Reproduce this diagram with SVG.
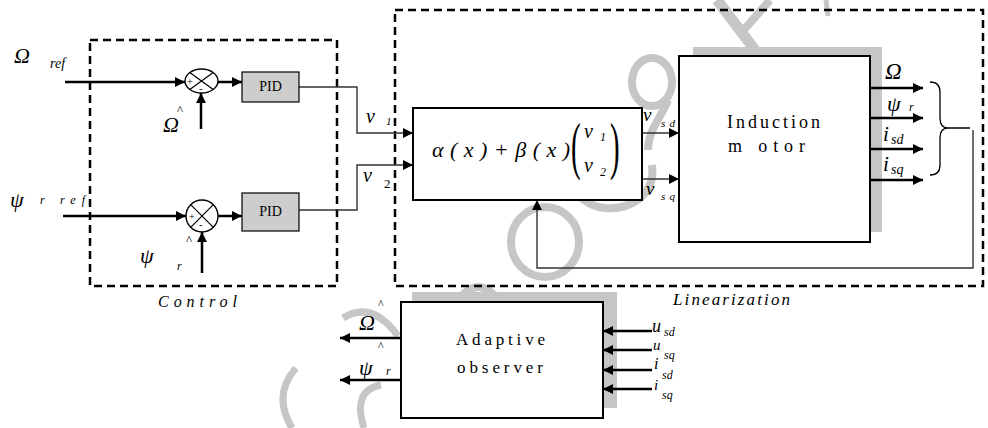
<svg xmlns="http://www.w3.org/2000/svg" width="988" height="428" viewBox="0 0 988 428" font-family="'Liberation Serif', 'Times New Roman', Tinos, 'DejaVu Serif', serif">
<style>
text{font-family:"Liberation Serif","Times New Roman",Tinos,"DejaVu Serif",serif;fill:#000}
.it{font-style:italic}
.wm{fill:none;stroke:#c6c6c6;stroke-linecap:butt}
.sh{fill:#c6c6c6;stroke:none}
.box{fill:#fff;stroke:#000;stroke-width:2}
.pid{fill:#cdcdcd;stroke:#000;stroke-width:1.2}
.dash{fill:none;stroke:#000;stroke-width:2.5;stroke-dasharray:8 5}
.th{fill:none;stroke:#000;stroke-width:2.5}
.tn{fill:none;stroke:#333;stroke-width:1.4}
.sum{fill:#fff;stroke:#000;stroke-width:1.4}
</style>
<defs>
<marker id="ah" viewBox="0 0 10 10" refX="10" refY="5" markerWidth="11" markerHeight="10" markerUnits="userSpaceOnUse" orient="auto"><path d="M0,0 L10,5 L0,10 z" fill="#000"/></marker>
</defs>
<rect width="988" height="428" fill="#fff"/>

<g id="watermark">
<ellipse class="wm" cx="545" cy="242" rx="34" ry="35" stroke-width="8"/>
<ellipse class="wm" cx="652" cy="82" rx="20" ry="24" stroke-width="8"/>
<path class="wm" d="M668 100 C660 120 648 130 648 150" stroke-width="8"/>
<path class="wm" d="M652 165 C656 195 630 210 605 208 C592 207 584 201 578 195" stroke-width="8"/>
<path class="wm" d="M717 0 L755 50" stroke-width="11"/>
<path class="wm" d="M770 0 L742 32" stroke-width="8"/>
<path class="wm" d="M826 0 L828 16" stroke-width="5"/>
<path class="wm" d="M457 302 Q478 272 500 302" stroke-width="8"/>
<path class="wm" d="M343 318 Q372 300 398 336" stroke-width="7"/>
<path class="wm" d="M296 368 Q272 395 292 428" stroke-width="7"/>
<path class="wm" d="M381 385 Q352 390 364 428" stroke-width="7"/>
<rect class="sh" x="693" y="47" width="189" height="9"/>
<rect class="sh" x="870" y="47" width="12" height="185"/>
<rect class="sh" x="412" y="292" width="205" height="10"/>
<rect class="sh" x="603" y="292" width="14" height="116"/>
</g>

<g id="control-frame">
<rect class="dash" x="90" y="40" width="247" height="246"/>
<text class="it" x="158" y="307" font-size="16" textLength="79" lengthAdjust="spacing">Control</text>
</g>
<g id="linearization-frame">
<rect class="dash" x="395" y="10" width="588" height="276"/>
<text class="it" x="673" y="305" font-size="17" textLength="117" lengthAdjust="spacing">Linearization</text>
</g>

<g id="connectors">
<path class="th" d="M65 82 H185" marker-end="url(#ah)"/>
<path class="th" d="M201 129 V93" marker-end="url(#ah)"/>
<path class="th" d="M218 82 H242" marker-end="url(#ah)"/>
<path class="tn" d="M299 87 H357 V133 H413" marker-end="url(#ah)"/>
<path class="th" d="M63 216 H186" marker-end="url(#ah)"/>
<path class="th" d="M202 273 V232" marker-end="url(#ah)"/>
<path class="th" d="M218 216 H242" marker-end="url(#ah)"/>
<path class="tn" d="M299 210 H357 V165 H413" marker-end="url(#ah)"/>
<path class="tn" d="M642 133 H679" marker-end="url(#ah)"/>
<path class="tn" d="M642 179 H679" marker-end="url(#ah)"/>
<path class="th" d="M866 88 H923" marker-end="url(#ah)"/>
<path class="th" d="M866 118 H923" marker-end="url(#ah)"/>
<path class="th" d="M866 149 H923" marker-end="url(#ah)"/>
<path class="th" d="M866 180 H923" marker-end="url(#ah)"/>
<path fill="none" stroke="#000" stroke-width="1.3" d="M930 82 Q940 82 940 92 V118 Q940 128 948 128 Q940 128 940 138 V165 Q940 175 930 175 M948 128 H970"/>
<path class="tn" d="M973 130 V268 H537 V200" marker-end="url(#ah)"/>
<path class="th" d="M401 338 H340" marker-end="url(#ah)"/>
<path class="th" d="M401 380 H340" marker-end="url(#ah)"/>
<path class="th" d="M652 331 H603" marker-end="url(#ah)"/>
<path class="th" d="M652 350 H603" marker-end="url(#ah)"/>
<path class="th" d="M652 370 H603" marker-end="url(#ah)"/>
<path class="th" d="M652 389 H603" marker-end="url(#ah)"/>
</g>

<g id="omega-ref">
<text class="it" x="14" y="63" font-size="22">Ω</text>
<text class="it" x="50" y="68" font-size="14">ref</text>
</g>
<g id="psi-ref">
<text class="it" x="10" y="207" font-size="22">ψ</text>
<text class="it" x="40" y="204" font-size="12" textLength="45" lengthAdjust="spacing">r ref</text>
</g>

<g id="sum1">
<ellipse class="sum" cx="201.5" cy="81" rx="16.5" ry="12"/>
<path stroke="#000" stroke-width="1.2" d="M189.8 72.5 L213.2 89.5 M189.8 89.5 L213.2 72.5"/>
<text x="187" y="85" font-size="10">+</text>
<text x="199" y="92" font-size="11">-</text>
<text class="it" x="163" y="132" font-size="22">Ω</text>
<text x="177" y="114" font-size="13">^</text>
</g>
<g id="sum2">
<circle class="sum" cx="202" cy="216" r="16"/>
<path stroke="#000" stroke-width="1.2" d="M190.7 204.7 L213.3 227.3 M190.7 227.3 L213.3 204.7"/>
<text x="189" y="220" font-size="10">+</text>
<text x="199" y="228" font-size="11">-</text>
<text class="it" x="140" y="263" font-size="22">ψ</text>
<text x="186" y="244" font-size="13">^</text>
<text class="it" x="177" y="270" font-size="12">r</text>
</g>

<g id="pid1">
<rect class="pid" x="242" y="72" width="57" height="30"/>
<text x="270.5" y="91" font-size="14" text-anchor="middle">PID</text>
</g>
<g id="pid2">
<rect class="pid" x="242" y="193" width="57" height="38"/>
<text x="270.5" y="216" font-size="14" text-anchor="middle">PID</text>
</g>

<g id="v-labels">
<text class="it" x="366" y="123" font-size="20">v</text>
<text class="it" x="386" y="125" font-size="11">1</text>
<text class="it" x="363" y="182" font-size="20">v</text>
<text x="384" y="188" font-size="13">2</text>
</g>

<g id="linearizer">
<rect class="box" x="413" y="108" width="229" height="92"/>
<text class="it" x="432" y="157" font-size="22" textLength="138" lengthAdjust="spacing">α ( x ) + β ( x )</text>
<text transform="translate(571,167) scale(0.45,1)" font-size="64">(</text>
<text transform="translate(610,167) scale(0.45,1)" font-size="64">)</text>
<text class="it" x="584" y="138" font-size="20">v</text>
<text class="it" x="600" y="141" font-size="12">1</text>
<text class="it" x="584" y="172" font-size="20">v</text>
<text class="it" x="600" y="176" font-size="12">2</text>
<text class="it" x="643" y="121" font-size="19">v</text>
<text class="it" x="661" y="127" font-size="11" textLength="14" lengthAdjust="spacing">sd</text>
<text class="it" x="646" y="195" font-size="19">v</text>
<text class="it" x="661" y="200" font-size="11" textLength="14" lengthAdjust="spacing">sq</text>
</g>

<g id="induction-motor">
<rect class="box" x="679" y="56" width="191" height="186"/>
<text x="727" y="128" font-size="18" textLength="93" lengthAdjust="spacing">Induction</text>
<text x="728" y="152" font-size="18" textLength="77" lengthAdjust="spacing">m otor</text>
<text class="it" x="885" y="79" font-size="23">Ω</text>
<text class="it" x="887" y="111" font-size="22">ψ</text>
<text class="it" x="909" y="111" font-size="12">r</text>
<text class="it" x="883" y="141" font-size="21">i</text>
<text class="it" x="891" y="144" font-size="14">sd</text>
<text class="it" x="883" y="171" font-size="21">i</text>
<text class="it" x="891" y="174" font-size="14">sq</text>
</g>

<g id="adaptive-observer">
<rect class="box" x="401" y="302" width="202" height="116"/>
<text x="456" y="345" font-size="17" textLength="89" lengthAdjust="spacing">Adaptive</text>
<text x="457" y="373" font-size="17" textLength="86" lengthAdjust="spacing">observer</text>
<text class="it" x="359" y="330" font-size="22">Ω</text>
<text x="378" y="308" font-size="12">^</text>
<text x="378" y="350" font-size="12">^</text>
<text class="it" x="359" y="375" font-size="22">ψ</text>
<text class="it" x="386" y="375" font-size="12">r</text>
<text class="it" x="652" y="332" font-size="18">u</text>
<text class="it" x="664" y="336" font-size="12">sd</text>
<text class="it" x="653" y="350" font-size="15">u</text>
<text class="it" x="664" y="359" font-size="12">sq</text>
<text class="it" x="654" y="369" font-size="16">i</text>
<text class="it" x="662" y="379" font-size="12">sd</text>
<text class="it" x="654" y="390" font-size="15">i</text>
<text class="it" x="662" y="399" font-size="12">sq</text>
</g>
</svg>
